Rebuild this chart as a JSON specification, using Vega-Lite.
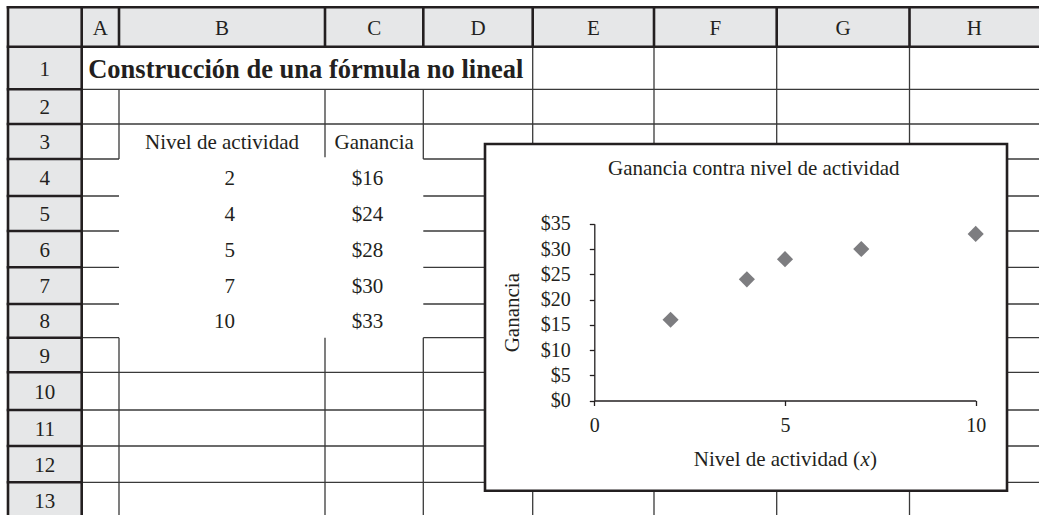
{
  "$schema": "https://vega.github.io/schema/vega-lite/v6.json",
  "width": 1039,
  "height": 515,
  "autosize": "none",
  "padding": 0,
  "background": "#ffffff",
  "config": {"view": {"stroke": null}},
  "datasets": {
    "tabla": [
      {"fila": 4, "nivel": 2, "ganancia": 16},
      {"fila": 5, "nivel": 4, "ganancia": 24},
      {"fila": 6, "nivel": 5, "ganancia": 28},
      {"fila": 7, "nivel": 7, "ganancia": 30},
      {"fila": 8, "nivel": 10, "ganancia": 33}
    ],
    "relleno": [
      {"x1": -0.5, "x2": 8.5, "y1": -0.5, "y2": 0.5},
      {"x1": -0.5, "x2": 0.5, "y1": 0.5, "y2": 13.5}
    ],
    "lineasFinas": [
      {"x1": 0.5, "x2": 8.5, "y1": 1.5, "y2": 1.5},
      {"x1": 0.5, "x2": 8.5, "y1": 2.5, "y2": 2.5},
      {"x1": 0.5, "x2": 1.5, "y1": 3.5, "y2": 3.5},
      {"x1": 3.5, "x2": 8.5, "y1": 3.5, "y2": 3.5},
      {"x1": 0.5, "x2": 1.5, "y1": 4.5, "y2": 4.5},
      {"x1": 3.5, "x2": 8.5, "y1": 4.5, "y2": 4.5},
      {"x1": 0.5, "x2": 1.5, "y1": 5.5, "y2": 5.5},
      {"x1": 3.5, "x2": 8.5, "y1": 5.5, "y2": 5.5},
      {"x1": 0.5, "x2": 1.5, "y1": 6.5, "y2": 6.5},
      {"x1": 3.5, "x2": 8.5, "y1": 6.5, "y2": 6.5},
      {"x1": 0.5, "x2": 1.5, "y1": 7.5, "y2": 7.5},
      {"x1": 3.5, "x2": 8.5, "y1": 7.5, "y2": 7.5},
      {"x1": 0.5, "x2": 1.5, "y1": 8.5, "y2": 8.5},
      {"x1": 3.5, "x2": 8.5, "y1": 8.5, "y2": 8.5},
      {"x1": 0.5, "x2": 8.5, "y1": 9.5, "y2": 9.5},
      {"x1": 0.5, "x2": 8.5, "y1": 10.5, "y2": 10.5},
      {"x1": 0.5, "x2": 8.5, "y1": 11.5, "y2": 11.5},
      {"x1": 0.5, "x2": 8.5, "y1": 12.5, "y2": 12.5},
      {"x1": 1.5, "x2": 1.5, "y1": 1.5, "y2": 3.5},
      {"x1": 1.5, "x2": 1.5, "y1": 8.5, "y2": 13.5},
      {"x1": 2.5, "x2": 2.5, "y1": 1.5, "y2": 3.45},
      {"x1": 2.5, "x2": 2.5, "y1": 8.5, "y2": 13.5},
      {"x1": 3.5, "x2": 3.5, "y1": 1.5, "y2": 3.5},
      {"x1": 3.5, "x2": 3.5, "y1": 8.5, "y2": 13.5},
      {"x1": 4.5, "x2": 4.5, "y1": 0.5, "y2": 13.5},
      {"x1": 5.5, "x2": 5.5, "y1": 0.5, "y2": 13.5},
      {"x1": 6.5, "x2": 6.5, "y1": 0.5, "y2": 13.5},
      {"x1": 7.5, "x2": 7.5, "y1": 0.5, "y2": 13.5}
    ],
    "lineasGruesas": [
      {"x1": -0.5, "x2": 8.5, "y1": -0.5, "y2": -0.5},
      {"x1": -0.5, "x2": 8.5, "y1": 0.5, "y2": 0.5},
      {"x1": -0.5, "x2": 0.5, "y1": 1.5, "y2": 1.5},
      {"x1": -0.5, "x2": 0.5, "y1": 2.5, "y2": 2.5},
      {"x1": -0.5, "x2": 0.5, "y1": 3.5, "y2": 3.5},
      {"x1": -0.5, "x2": 0.5, "y1": 4.5, "y2": 4.5},
      {"x1": -0.5, "x2": 0.5, "y1": 5.5, "y2": 5.5},
      {"x1": -0.5, "x2": 0.5, "y1": 6.5, "y2": 6.5},
      {"x1": -0.5, "x2": 0.5, "y1": 7.5, "y2": 7.5},
      {"x1": -0.5, "x2": 0.5, "y1": 8.5, "y2": 8.5},
      {"x1": -0.5, "x2": 0.5, "y1": 9.5, "y2": 9.5},
      {"x1": -0.5, "x2": 0.5, "y1": 10.5, "y2": 10.5},
      {"x1": -0.5, "x2": 0.5, "y1": 11.5, "y2": 11.5},
      {"x1": -0.5, "x2": 0.5, "y1": 12.5, "y2": 12.5},
      {"x1": -0.5, "x2": -0.5, "y1": -0.5, "y2": 13.5},
      {"x1": 0.5, "x2": 0.5, "y1": -0.5, "y2": 13.5},
      {"x1": 1.5, "x2": 1.5, "y1": -0.5, "y2": 0.5},
      {"x1": 2.5, "x2": 2.5, "y1": -0.5, "y2": 0.5},
      {"x1": 3.5, "x2": 3.5, "y1": -0.5, "y2": 0.5},
      {"x1": 4.5, "x2": 4.5, "y1": -0.5, "y2": 0.5},
      {"x1": 5.5, "x2": 5.5, "y1": -0.5, "y2": 0.5},
      {"x1": 6.5, "x2": 6.5, "y1": -0.5, "y2": 0.5},
      {"x1": 7.5, "x2": 7.5, "y1": -0.5, "y2": 0.5}
    ],
    "columnas": [
      {"c": 1, "t": "A"}, {"c": 2, "t": "B"}, {"c": 3, "t": "C"}, {"c": 4, "t": "D"},
      {"c": 5, "t": "E"}, {"c": 6, "t": "F"}, {"c": 7, "t": "G"}, {"c": 8, "t": "H"}
    ],
    "filas": [
      {"r": 1}, {"r": 2}, {"r": 3}, {"r": 4}, {"r": 5}, {"r": 6}, {"r": 7},
      {"r": 8}, {"r": 9}, {"r": 10}, {"r": 11}, {"r": 12}, {"r": 13}
    ],
    "encabezados": [
      {"c": 2, "t": "Nivel de actividad"},
      {"c": 3, "t": "Ganancia"}
    ]
  },
  "layer": [
    {
      "layer": [
        {
          "data": {"name": "relleno"},
          "mark": {"type": "rect", "fill": "#e6e7e8"},
          "encoding": {
            "x": {"field": "x1", "type": "quantitative", "axis": null, "scale": {"type": "linear", "domain": [-0.5, 0.5, 1.5, 2.5, 3.5, 4.5, 5.5, 6.5, 7.5, 8.5], "range": [8, 81.7, 119, 325, 423.3, 532.7, 654, 776.7, 909.5, 1039], "nice": false, "zero": false}},
            "x2": {"field": "x2"},
            "y": {"field": "y1", "type": "quantitative", "axis": null, "scale": {"type": "linear", "domain": [-0.5, 0.5, 1.5, 2.5, 3.5, 4.5, 5.5, 6.5, 7.5, 8.5, 9.5, 10.5, 11.5, 12.5, 13.5], "range": [7.3, 46.7, 89.3, 124, 159, 196, 231, 267.3, 304, 337.7, 372.3, 410, 446, 482.3, 518], "nice": false, "zero": false}},
            "y2": {"field": "y2"}
          }
        },
        {
          "data": {"name": "lineasFinas"},
          "mark": {"type": "rule", "color": "#3a3a3a", "strokeWidth": 1.3},
          "encoding": {
            "x": {"field": "x1", "type": "quantitative", "axis": null, "scale": {"type": "linear", "domain": [-0.5, 0.5, 1.5, 2.5, 3.5, 4.5, 5.5, 6.5, 7.5, 8.5], "range": [8, 81.7, 119, 325, 423.3, 532.7, 654, 776.7, 909.5, 1039], "nice": false, "zero": false}},
            "x2": {"field": "x2"},
            "y": {"field": "y1", "type": "quantitative", "axis": null, "scale": {"type": "linear", "domain": [-0.5, 0.5, 1.5, 2.5, 3.5, 4.5, 5.5, 6.5, 7.5, 8.5, 9.5, 10.5, 11.5, 12.5, 13.5], "range": [7.3, 46.7, 89.3, 124, 159, 196, 231, 267.3, 304, 337.7, 372.3, 410, 446, 482.3, 518], "nice": false, "zero": false}},
            "y2": {"field": "y2"}
          }
        },
        {
          "data": {"name": "lineasGruesas"},
          "mark": {"type": "rule", "color": "#231f20", "strokeWidth": 2.6, "strokeCap": "square"},
          "encoding": {
            "x": {"field": "x1", "type": "quantitative", "axis": null, "scale": {"type": "linear", "domain": [-0.5, 0.5, 1.5, 2.5, 3.5, 4.5, 5.5, 6.5, 7.5, 8.5], "range": [8, 81.7, 119, 325, 423.3, 532.7, 654, 776.7, 909.5, 1039], "nice": false, "zero": false}},
            "x2": {"field": "x2"},
            "y": {"field": "y1", "type": "quantitative", "axis": null, "scale": {"type": "linear", "domain": [-0.5, 0.5, 1.5, 2.5, 3.5, 4.5, 5.5, 6.5, 7.5, 8.5, 9.5, 10.5, 11.5, 12.5, 13.5], "range": [7.3, 46.7, 89.3, 124, 159, 196, 231, 267.3, 304, 337.7, 372.3, 410, 446, 482.3, 518], "nice": false, "zero": false}},
            "y2": {"field": "y2"}
          }
        },
        {
          "data": {"name": "columnas"},
          "mark": {"type": "text", "font": "Liberation Serif", "fontSize": 21, "color": "#231f20", "baseline": "middle", "dy": 1.5},
          "encoding": {
            "x": {"field": "c", "type": "quantitative", "axis": null, "scale": {"type": "linear", "domain": [-0.5, 0.5, 1.5, 2.5, 3.5, 4.5, 5.5, 6.5, 7.5, 8.5], "range": [8, 81.7, 119, 325, 423.3, 532.7, 654, 776.7, 909.5, 1039], "nice": false, "zero": false}},
            "y": {"datum": 0, "type": "quantitative", "axis": null, "scale": {"type": "linear", "domain": [-0.5, 0.5, 1.5, 2.5, 3.5, 4.5, 5.5, 6.5, 7.5, 8.5, 9.5, 10.5, 11.5, 12.5, 13.5], "range": [7.3, 46.7, 89.3, 124, 159, 196, 231, 267.3, 304, 337.7, 372.3, 410, 446, 482.3, 518], "nice": false, "zero": false}},
            "text": {"field": "t"}
          }
        },
        {
          "data": {"name": "filas"},
          "mark": {"type": "text", "font": "Liberation Serif", "fontSize": 21, "color": "#231f20", "baseline": "middle", "dy": 1.5},
          "encoding": {
            "x": {"datum": 0, "type": "quantitative", "axis": null, "scale": {"type": "linear", "domain": [-0.5, 0.5, 1.5, 2.5, 3.5, 4.5, 5.5, 6.5, 7.5, 8.5], "range": [8, 81.7, 119, 325, 423.3, 532.7, 654, 776.7, 909.5, 1039], "nice": false, "zero": false}},
            "y": {"field": "r", "type": "quantitative", "axis": null, "scale": {"type": "linear", "domain": [-0.5, 0.5, 1.5, 2.5, 3.5, 4.5, 5.5, 6.5, 7.5, 8.5, 9.5, 10.5, 11.5, 12.5, 13.5], "range": [7.3, 46.7, 89.3, 124, 159, 196, 231, 267.3, 304, 337.7, 372.3, 410, 446, 482.3, 518], "nice": false, "zero": false}},
            "text": {"field": "r", "type": "quantitative"}
          }
        },
        {
          "data": {"values": [{"t": "Construcción de una fórmula no lineal"}]},
          "mark": {"type": "text", "font": "Liberation Serif", "fontSize": 26.5, "fontWeight": "bold", "color": "#231f20", "baseline": "middle", "align": "left", "dx": 6.5, "dy": 1.5},
          "encoding": {
            "x": {"datum": 0.5, "type": "quantitative", "axis": null, "scale": {"type": "linear", "domain": [-0.5, 0.5, 1.5, 2.5, 3.5, 4.5, 5.5, 6.5, 7.5, 8.5], "range": [8, 81.7, 119, 325, 423.3, 532.7, 654, 776.7, 909.5, 1039], "nice": false, "zero": false}},
            "y": {"datum": 1, "type": "quantitative", "axis": null, "scale": {"type": "linear", "domain": [-0.5, 0.5, 1.5, 2.5, 3.5, 4.5, 5.5, 6.5, 7.5, 8.5, 9.5, 10.5, 11.5, 12.5, 13.5], "range": [7.3, 46.7, 89.3, 124, 159, 196, 231, 267.3, 304, 337.7, 372.3, 410, 446, 482.3, 518], "nice": false, "zero": false}},
            "text": {"field": "t"}
          }
        },
        {
          "data": {"name": "encabezados"},
          "mark": {"type": "text", "font": "Liberation Serif", "fontSize": 21, "color": "#231f20", "baseline": "middle", "dy": 1.5},
          "encoding": {
            "x": {"field": "c", "type": "quantitative", "axis": null, "scale": {"type": "linear", "domain": [-0.5, 0.5, 1.5, 2.5, 3.5, 4.5, 5.5, 6.5, 7.5, 8.5], "range": [8, 81.7, 119, 325, 423.3, 532.7, 654, 776.7, 909.5, 1039], "nice": false, "zero": false}},
            "y": {"datum": 3, "type": "quantitative", "axis": null, "scale": {"type": "linear", "domain": [-0.5, 0.5, 1.5, 2.5, 3.5, 4.5, 5.5, 6.5, 7.5, 8.5, 9.5, 10.5, 11.5, 12.5, 13.5], "range": [7.3, 46.7, 89.3, 124, 159, 196, 231, 267.3, 304, 337.7, 372.3, 410, 446, 482.3, 518], "nice": false, "zero": false}},
            "text": {"field": "t"}
          }
        },
        {
          "data": {"name": "tabla"},
          "mark": {"type": "text", "font": "Liberation Serif", "fontSize": 21, "color": "#231f20", "baseline": "middle", "align": "right", "dx": 13, "dy": 1.5},
          "encoding": {
            "x": {"datum": 2, "type": "quantitative", "axis": null, "scale": {"type": "linear", "domain": [-0.5, 0.5, 1.5, 2.5, 3.5, 4.5, 5.5, 6.5, 7.5, 8.5], "range": [8, 81.7, 119, 325, 423.3, 532.7, 654, 776.7, 909.5, 1039], "nice": false, "zero": false}},
            "y": {"field": "fila", "type": "quantitative", "axis": null, "scale": {"type": "linear", "domain": [-0.5, 0.5, 1.5, 2.5, 3.5, 4.5, 5.5, 6.5, 7.5, 8.5, 9.5, 10.5, 11.5, 12.5, 13.5], "range": [7.3, 46.7, 89.3, 124, 159, 196, 231, 267.3, 304, 337.7, 372.3, 410, 446, 482.3, 518], "nice": false, "zero": false}},
            "text": {"field": "nivel", "type": "quantitative", "format": "d"}
          }
        },
        {
          "data": {"name": "tabla"},
          "mark": {"type": "text", "font": "Liberation Serif", "fontSize": 21, "color": "#231f20", "baseline": "middle", "align": "right", "dx": 9, "dy": 1.5},
          "encoding": {
            "x": {"datum": 3, "type": "quantitative", "axis": null, "scale": {"type": "linear", "domain": [-0.5, 0.5, 1.5, 2.5, 3.5, 4.5, 5.5, 6.5, 7.5, 8.5], "range": [8, 81.7, 119, 325, 423.3, 532.7, 654, 776.7, 909.5, 1039], "nice": false, "zero": false}},
            "y": {"field": "fila", "type": "quantitative", "axis": null, "scale": {"type": "linear", "domain": [-0.5, 0.5, 1.5, 2.5, 3.5, 4.5, 5.5, 6.5, 7.5, 8.5, 9.5, 10.5, 11.5, 12.5, 13.5], "range": [7.3, 46.7, 89.3, 124, 159, 196, 231, 267.3, 304, 337.7, 372.3, 410, 446, 482.3, 518], "nice": false, "zero": false}},
            "text": {"field": "ganancia", "type": "quantitative", "format": "$.0f"}
          }
        },
        {
          "data": {"values": [{"objeto": "gráfico"}]},
          "mark": {"type": "rect", "fill": "#ffffff", "stroke": "#231f20", "strokeWidth": 2.6},
          "encoding": {
            "x": {"datum": 4.064, "type": "quantitative", "axis": null, "scale": {"type": "linear", "domain": [-0.5, 0.5, 1.5, 2.5, 3.5, 4.5, 5.5, 6.5, 7.5, 8.5], "range": [8, 81.7, 119, 325, 423.3, 532.7, 654, 776.7, 909.5, 1039], "nice": false, "zero": false}},
            "x2": {"datum": 8.253},
            "y": {"datum": 3.071, "type": "quantitative", "axis": null, "scale": {"type": "linear", "domain": [-0.5, 0.5, 1.5, 2.5, 3.5, 4.5, 5.5, 6.5, 7.5, 8.5, 9.5, 10.5, 11.5, 12.5, 13.5], "range": [7.3, 46.7, 89.3, 124, 159, 196, 231, 267.3, 304, 337.7, 372.3, 410, 446, 482.3, 518], "nice": false, "zero": false}},
            "y2": {"datum": 12.735}
          }
        },
        {
          "data": {"values": [{"t": "Ganancia contra nivel de actividad"}]},
          "mark": {"type": "text", "font": "Liberation Serif", "fontSize": 21, "color": "#231f20", "baseline": "middle", "align": "center"},
          "encoding": {
            "x": {"datum": 6.313, "type": "quantitative", "axis": null, "scale": {"type": "linear", "domain": [-0.5, 0.5, 1.5, 2.5, 3.5, 4.5, 5.5, 6.5, 7.5, 8.5], "range": [8, 81.7, 119, 325, 423.3, 532.7, 654, 776.7, 909.5, 1039], "nice": false, "zero": false}},
            "y": {"datum": 3.778, "type": "quantitative", "axis": null, "scale": {"type": "linear", "domain": [-0.5, 0.5, 1.5, 2.5, 3.5, 4.5, 5.5, 6.5, 7.5, 8.5, 9.5, 10.5, 11.5, 12.5, 13.5], "range": [7.3, 46.7, 89.3, 124, 159, 196, 231, 267.3, 304, 337.7, 372.3, 410, 446, 482.3, 518], "nice": false, "zero": false}},
            "text": {"field": "t"}
          }
        }
      ]
    },
    {
      "layer": [
        {
          "data": {"name": "tabla"},
          "mark": {"type": "point", "shape": "diamond", "filled": true, "size": 260, "color": "#7d7d80", "opacity": 1},
          "encoding": {
            "x": {
              "field": "nivel", "type": "quantitative",
              "scale": {"domain": [0, 10], "range": [594.3, 975.7], "nice": false, "zero": false},
              "axis": {"orient": "bottom", "offset": -114.5, "values": [0, 5, 10], "format": "d", "title": null, "grid": false, "zindex": 2,
                "domainColor": "#231f20", "domainWidth": 1.3, "tickColor": "#231f20", "tickWidth": 1.3, "tickSize": 5,
                "labelFont": "Liberation Serif", "labelFontSize": 20, "labelColor": "#231f20", "labelPadding": 10, "labelFlush": false, "labelOverlap": false}
            },
            "y": {
              "field": "ganancia", "type": "quantitative",
              "scale": {"domain": [0, 35], "range": [400.5, 223.8], "nice": false, "zero": false},
              "axis": {"orient": "left", "offset": -594.3, "values": [0, 5, 10, 15, 20, 25, 30, 35], "format": "$.0f", "title": "Ganancia", "grid": false, "zindex": 2,
                "domainColor": "#231f20", "domainWidth": 1.3, "tickColor": "#231f20", "tickWidth": 1.3, "tickSize": 5,
                "labelFont": "Liberation Serif", "labelFontSize": 20, "labelColor": "#231f20", "labelPadding": 19, "labelOverlap": false,
                "titleFont": "Liberation Serif", "titleFontSize": 21, "titleFontWeight": "normal", "titleColor": "#231f20", "titlePadding": 18}
            }
          }
        },
        {
          "data": {"values": [{"t": "Nivel de actividad ("}]},
          "mark": {"type": "text", "font": "Liberation Serif", "fontSize": 21, "color": "#231f20", "baseline": "middle", "align": "right", "dx": 75, "dy": 59.5},
          "encoding": {"x": {"datum": 5, "type": "quantitative"}, "y": {"datum": 0, "type": "quantitative"}, "text": {"field": "t"}}
        },
        {
          "data": {"values": [{"t": "x"}]},
          "mark": {"type": "text", "font": "Liberation Serif", "fontSize": 21, "fontStyle": "italic", "color": "#231f20", "baseline": "middle", "align": "left", "dx": 75.5, "dy": 59.5},
          "encoding": {"x": {"datum": 5, "type": "quantitative"}, "y": {"datum": 0, "type": "quantitative"}, "text": {"field": "t"}}
        },
        {
          "data": {"values": [{"t": ")"}]},
          "mark": {"type": "text", "font": "Liberation Serif", "fontSize": 21, "color": "#231f20", "baseline": "middle", "align": "left", "dx": 85, "dy": 59.5},
          "encoding": {"x": {"datum": 5, "type": "quantitative"}, "y": {"datum": 0, "type": "quantitative"}, "text": {"field": "t"}}
        }
      ]
    }
  ],
  "resolve": {"scale": {"x": "independent", "y": "independent"}}
}
